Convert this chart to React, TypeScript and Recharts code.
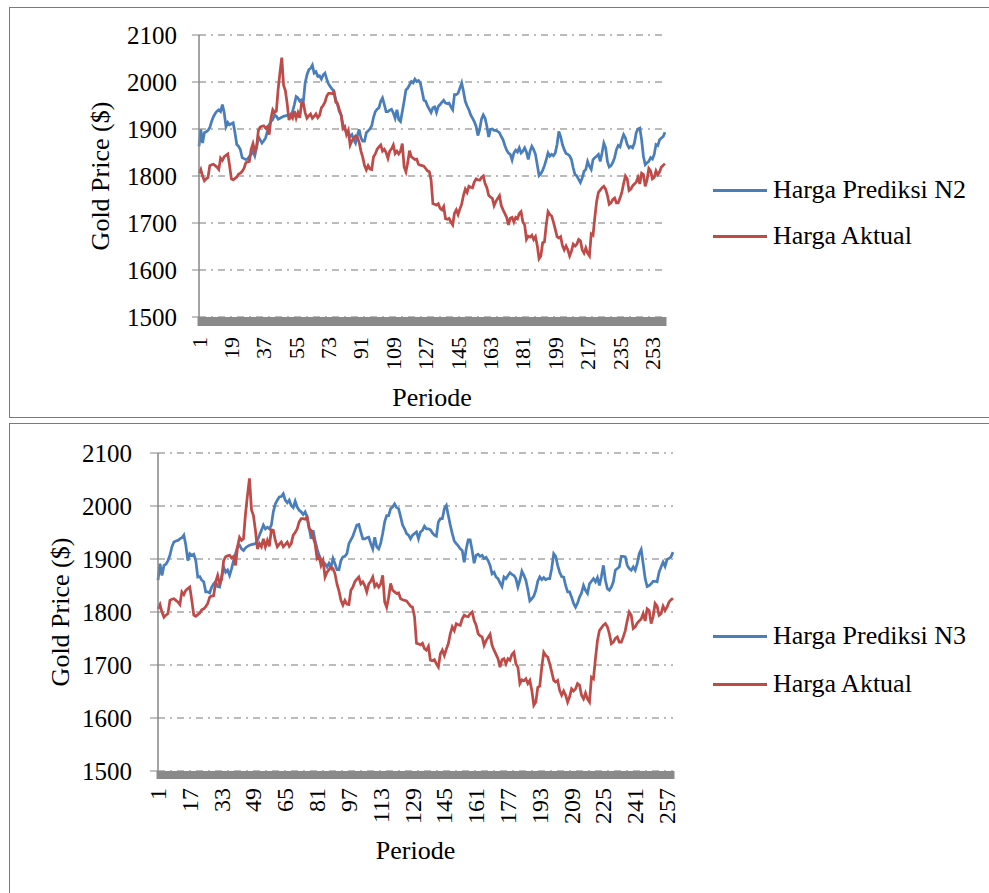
import { LineChart, Line, XAxis, YAxis, CartesianGrid, Legend } from "recharts";

const FONT = "'Liberation Serif', 'DejaVu Serif', 'Noto Serif', Tinos, 'Times New Roman', Times, serif";
const BLUE = "#4a7ebb";
const RED = "#be4b48";
const AXIS = "#868686";
const BAR = "#8a8a8a";

// periode 1..260
const periods = Array.from({ length: 260 }, (_, i) => i + 1);

const yTicks = [1500, 1600, 1700, 1800, 1900, 2000, 2100];
const topTicks = [1, 19, 37, 55, 73, 91, 109, 127, 145, 163, 181, 199, 217, 235, 253];
const bottomTicks = [1, 17, 33, 49, 65, 81, 97, 113, 129, 145, 161, 177, 193, 209, 225, 241, 257];

const actual = [
	1806, 1814, 1800, 1790, 1794, 1797, 1822, 1824, 1825, 1822,
	1819, 1814, 1838, 1833, 1841, 1844, 1847, 1822, 1794, 1792,
	1795, 1798, 1804, 1806, 1810, 1816, 1828, 1830, 1831, 1857,
	1869, 1853, 1862, 1897, 1904, 1906, 1907, 1902, 1905, 1888,
	1923, 1941, 1935, 1938, 1985, 2020, 2052, 1993, 1982, 1954,
	1919, 1929, 1923, 1938, 1923, 1935, 1924, 1955, 1954, 1935,
	1923, 1928, 1932, 1923, 1927, 1932, 1924, 1929, 1945, 1950,
	1957, 1970, 1976, 1976, 1975, 1979, 1957, 1954, 1941, 1929,
	1901, 1905, 1888, 1897, 1866, 1875, 1880, 1885, 1882, 1872,
	1853, 1840, 1822, 1813, 1822, 1815, 1814, 1841, 1847, 1857,
	1862, 1866, 1853, 1857, 1850, 1838, 1853, 1858, 1866, 1848,
	1853, 1847, 1853, 1869, 1819, 1809, 1828, 1854, 1841, 1838,
	1835, 1836, 1825, 1823, 1822, 1821, 1816, 1811, 1809, 1791,
	1741, 1740, 1738, 1741, 1731, 1728, 1735, 1709, 1708, 1710,
	1702, 1696, 1721, 1728, 1718, 1730, 1740, 1759, 1772, 1765,
	1778, 1776, 1775, 1787, 1794, 1792, 1791, 1797, 1800, 1784,
	1775, 1759, 1755, 1753, 1737, 1746, 1752, 1758, 1737, 1728,
	1720, 1712, 1696, 1710, 1712, 1702, 1712, 1709, 1720, 1724,
	1702, 1696, 1665, 1672, 1670, 1674, 1665, 1671, 1652, 1624,
	1630, 1658, 1660, 1696, 1724, 1718, 1715, 1702, 1687, 1671,
	1668, 1671, 1652, 1643, 1651, 1643, 1630, 1640, 1655, 1651,
	1655, 1665, 1662, 1643, 1636, 1647, 1636, 1630, 1677, 1674,
	1712, 1746, 1765, 1770, 1775, 1778, 1772, 1759, 1740, 1743,
	1750, 1753, 1743, 1743, 1753, 1765, 1784, 1800, 1794, 1769,
	1772, 1779, 1783, 1787, 1797, 1783, 1806, 1803, 1778, 1791,
	1816, 1811, 1794, 1797, 1811, 1803, 1809, 1819, 1823, 1826,
];

const predN2 = [
	1863, 1899, 1870, 1892, 1894, 1897, 1903, 1916, 1926, 1933,
	1938, 1941, 1937, 1952, 1935, 1905, 1914, 1909, 1911, 1913,
	1892, 1867, 1863, 1856, 1839, 1837, 1835, 1836, 1842, 1846,
	1853, 1843, 1860, 1884, 1877, 1870, 1875, 1881, 1895, 1909,
	1916, 1920, 1930, 1927, 1921, 1923, 1925, 1927, 1928, 1929,
	1930, 1930, 1937, 1952, 1969, 1966, 1959, 1962, 1959, 1998,
	2015, 2026, 2029, 2036, 2019, 2022, 2012, 2013, 2006, 2015,
	2019, 2006, 1996, 1990, 1985, 1980, 1962, 1952, 1937, 1930,
	1909, 1899, 1895, 1892, 1884, 1888, 1877, 1870, 1886, 1899,
	1881, 1874, 1874, 1892, 1896, 1900, 1907, 1925, 1937, 1942,
	1945, 1959, 1966, 1952, 1937, 1937, 1940, 1942, 1934, 1923,
	1941, 1920, 1916, 1937, 1959, 1983, 1987, 1994, 2001, 1998,
	2006, 2001, 2003, 1998, 1980, 1961, 1959, 1949, 1942, 1935,
	1945, 1947, 1935, 1948, 1952, 1957, 1961, 1955, 1954, 1955,
	1947, 1941, 1973, 1973, 1976, 1987, 1998, 1980, 1959, 1949,
	1941, 1930, 1923, 1916, 1906, 1886, 1899, 1921, 1930, 1923,
	1906, 1883, 1899, 1900, 1897, 1897, 1895, 1892, 1884, 1877,
	1865, 1855, 1849, 1846, 1834, 1849, 1855, 1851, 1860, 1849,
	1853, 1860, 1851, 1835, 1853, 1863, 1856, 1846, 1824, 1801,
	1805, 1812, 1822, 1835, 1849, 1842, 1846, 1843, 1849, 1867,
	1895, 1884, 1867, 1856, 1848, 1846, 1843, 1835, 1817, 1803,
	1800, 1793, 1786, 1796, 1810, 1814, 1831, 1821, 1814, 1835,
	1839, 1842, 1846, 1831, 1849, 1870, 1860, 1831, 1819, 1822,
	1829, 1839, 1856, 1865, 1862, 1877, 1888, 1881, 1867, 1860,
	1863, 1860, 1870, 1892, 1900, 1902, 1877, 1842, 1824, 1828,
	1831, 1839, 1836, 1846, 1867, 1865, 1877, 1881, 1884, 1893,
];

const predN3 = [
	1860, 1891, 1869, 1888, 1890, 1897, 1907, 1923, 1932, 1934,
	1935, 1938, 1940, 1945, 1926, 1897, 1910, 1907, 1909, 1897,
	1866, 1867, 1860, 1857, 1838, 1838, 1836, 1847, 1853, 1857,
	1848, 1847, 1866, 1885, 1875, 1879, 1869, 1882, 1897, 1910,
	1923, 1926, 1919, 1916, 1921, 1924, 1926, 1927, 1928, 1929,
	1935, 1945, 1954, 1964, 1957, 1960, 1957, 1964, 1989, 2004,
	2011, 2017, 2018, 2023, 2011, 2006, 2011, 2001, 1997, 2009,
	1998, 1992, 1989, 1984, 1989, 1979, 1960, 1938, 1954, 1935,
	1919, 1907, 1899, 1894, 1891, 1885, 1892, 1884, 1901, 1891,
	1880, 1880, 1897, 1904, 1905, 1910, 1929, 1936, 1943, 1954,
	1964, 1965, 1951, 1938, 1938, 1940, 1941, 1929, 1919, 1941,
	1923, 1919, 1930, 1948, 1970, 1982, 1982, 1995, 1998, 2004,
	1997, 1995, 1980, 1964, 1957, 1948, 1945, 1938, 1945, 1948,
	1951, 1938, 1951, 1954, 1962, 1957, 1957, 1955, 1949, 1945,
	1943, 1970, 1976, 1976, 1995, 2001, 1982, 1964, 1948, 1934,
	1929, 1925, 1919, 1916, 1894, 1919, 1936, 1936, 1916, 1892,
	1907, 1909, 1905, 1907, 1901, 1903, 1897, 1888, 1872, 1875,
	1866, 1863, 1855, 1848, 1866, 1863, 1869, 1874, 1871, 1869,
	1863, 1847, 1860, 1877, 1869, 1860, 1842, 1821, 1825, 1830,
	1841, 1858, 1866, 1861, 1865, 1861, 1863, 1863, 1882, 1910,
	1905, 1888, 1875, 1867, 1866, 1850, 1838, 1838, 1828, 1816,
	1809, 1817, 1828, 1836, 1850, 1841, 1835, 1853, 1858, 1863,
	1857, 1865, 1850, 1867, 1888, 1860, 1844, 1841, 1847, 1857,
	1879, 1882, 1885, 1905, 1905, 1904, 1888, 1882, 1879, 1885,
	1879, 1891, 1910, 1918, 1891, 1863, 1848, 1850, 1853, 1858,
	1858, 1857, 1875, 1885, 1894, 1886, 1899, 1901, 1904, 1913,
];

const topData = periods.map((p, i) => ({ period: p, pred: predN2[i], actual: actual[i] }));
const bottomData = periods.map((p, i) => ({ period: p, pred: predN3[i], actual: actual[i] }));

const xTick = (labels: number[], fontSize: number) => (props: any) => {
	const { x, y, payload } = props;
	if (!labels.includes(Number(payload.value))) return <g />;
	return (
		<text
			x={x}
			y={y}
			transform={`rotate(-90 ${x} ${y})`}
			textAnchor="end"
			dominantBaseline="central"
			fontFamily={FONT}
			fontSize={fontSize}
			fill="#000"
		>
			{payload.value}
		</text>
	);
};

const yTitle = (cx: number, cy: number) => () => (
	<text
		x={cx}
		y={cy}
		transform={`rotate(-90 ${cx} ${cy})`}
		textAnchor="middle"
		dominantBaseline="central"
		fontFamily={FONT}
		fontSize={26}
		fill="#000"
	>
		Gold Price ($)
	</text>
);

// prediction first, actual second (as in the source legend)
const legendOrder = ["pred", "actual"];

const legendContent = (rowHeight: number) => (props: any) => {
	const items = [...(props.payload || [])].sort(
		(a: any, b: any) => legendOrder.indexOf(a.dataKey) - legendOrder.indexOf(b.dataKey),
	);
	return (
		<div style={{ fontFamily: FONT, fontSize: 26, color: "#000" }}>
			{items.map((entry: any) => (
				<div key={entry.value} style={{ display: "flex", alignItems: "center", height: rowHeight, whiteSpace: "nowrap" }}>
					<span style={{ display: "inline-block", width: 54, borderTop: `3px solid ${entry.color}`, marginRight: 6 }} />
					<span>{entry.value}</span>
				</div>
			))}
		</div>
	);
};

interface GoldChartProps {
	data: { period: number; pred: number; actual: number }[];
	predName: string;
	height: number;
	top: number;
	plotTop: number;
	plotLeft: number;
	plotRight: number;
	xAxisHeight: number;
	xLabels: number[];
	xFont: number;
	xTickSize: number;
	xTickMargin: number;
	yTickSize: number;
	yTickMargin: number;
	periodeOffset: number;
	titleX: number;
	legendTop: number;
	legendRow: number;
}

function GoldChart(p: GoldChartProps) {
	const plotBottom = p.height - p.xAxisHeight;
	return (
		<div style={{ position: "absolute", left: 0, top: p.top }}>
			<LineChart
				width={989}
				height={p.height}
				data={p.data}
				margin={{ top: p.plotTop, right: 989 - p.plotRight, bottom: 0, left: 0 }}
			>
				<CartesianGrid vertical={false} stroke="#a5a5a5" strokeWidth={1.5} strokeDasharray="7 5 2 5" />
				<XAxis
					dataKey="period"
					interval={0}
					height={p.xAxisHeight}
					tick={xTick(p.xLabels, p.xFont)}
					tickSize={p.xTickSize}
					tickMargin={p.xTickMargin}
					tickLine={{ stroke: BAR, strokeWidth: 3 }}
					axisLine={{ stroke: BAR, strokeWidth: p.xTickSize, transform: `translate(0 ${p.xTickSize / 2})` }}
					label={{ value: "Periode", position: "insideBottom", offset: p.periodeOffset, fontFamily: FONT, fontSize: 26, fill: "#000" }}
				/>
				<YAxis
					width={p.plotLeft}
					domain={[1500, 2100]}
					ticks={yTicks}
					interval={0}
					allowDataOverflow
					tick={{ fontFamily: FONT, fontSize: 25, fill: "#000" }}
					tickSize={p.yTickSize}
					tickMargin={p.yTickMargin}
					tickLine={{ stroke: AXIS }}
					axisLine={{ stroke: AXIS, strokeWidth: 1.5 }}
					label={{ content: yTitle(p.titleX, (p.plotTop + plotBottom) / 2) }}
				/>
				<Legend
					layout="vertical"
					align="center"
					verticalAlign="middle"
					content={legendContent(p.legendRow)}
					wrapperStyle={{ left: 713, top: p.legendTop, width: 270 }}
				/>
				<Line
					type="linear"
					dataKey="pred"
					name={p.predName}
					stroke={BLUE}
					strokeWidth={2.75}
					dot={false}
					isAnimationActive={false}
				/>
				<Line
					type="linear"
					dataKey="actual"
					name="Harga Aktual"
					stroke={RED}
					strokeWidth={2.75}
					dot={false}
					isAnimationActive={false}
				/>
			</LineChart>
		</div>
	);
}

export default function App() {
	return (
		<div style={{ position: "absolute", left: 0, top: 0, width: 989, height: 893, overflow: "hidden", background: "#fff" }}>
			<div
				style={{
					position: "absolute",
					left: 9,
					top: 7,
					width: 980,
					height: 411,
					boxSizing: "border-box",
					borderLeft: "1px solid #7a7a7a",
					borderTop: "1px solid #7a7a7a",
					borderBottom: "1px solid #7a7a7a",
				}}
			/>
			<div
				style={{
					position: "absolute",
					left: 9,
					top: 423,
					width: 980,
					height: 470,
					boxSizing: "border-box",
					borderLeft: "1px solid #7a7a7a",
					borderTop: "1px solid #7a7a7a",
				}}
			/>
			<GoldChart
				data={topData}
				predName="Harga Prediksi N2"
				height={417}
				top={0}
				plotTop={35}
				plotLeft={199}
				plotRight={665}
				xAxisHeight={100}
				xLabels={topTicks}
				xFont={22}
				xTickSize={9}
				xTickMargin={11}
				yTickSize={7}
				yTickMargin={15}
				periodeOffset={11}
				titleX={100}
				legendTop={167}
				legendRow={46}
			/>
			<GoldChart
				data={bottomData}
				predName="Harga Prediksi N3"
				height={478}
				top={415}
				plotTop={38}
				plotLeft={158}
				plotRight={673}
				xAxisHeight={122}
				xLabels={bottomTicks}
				xFont={24}
				xTickSize={8}
				xTickMargin={9}
				yTickSize={8}
				yTickMargin={18}
				periodeOffset={34}
				titleX={60}
				legendTop={197}
				legendRow={48}
			/>
		</div>
	);
}
